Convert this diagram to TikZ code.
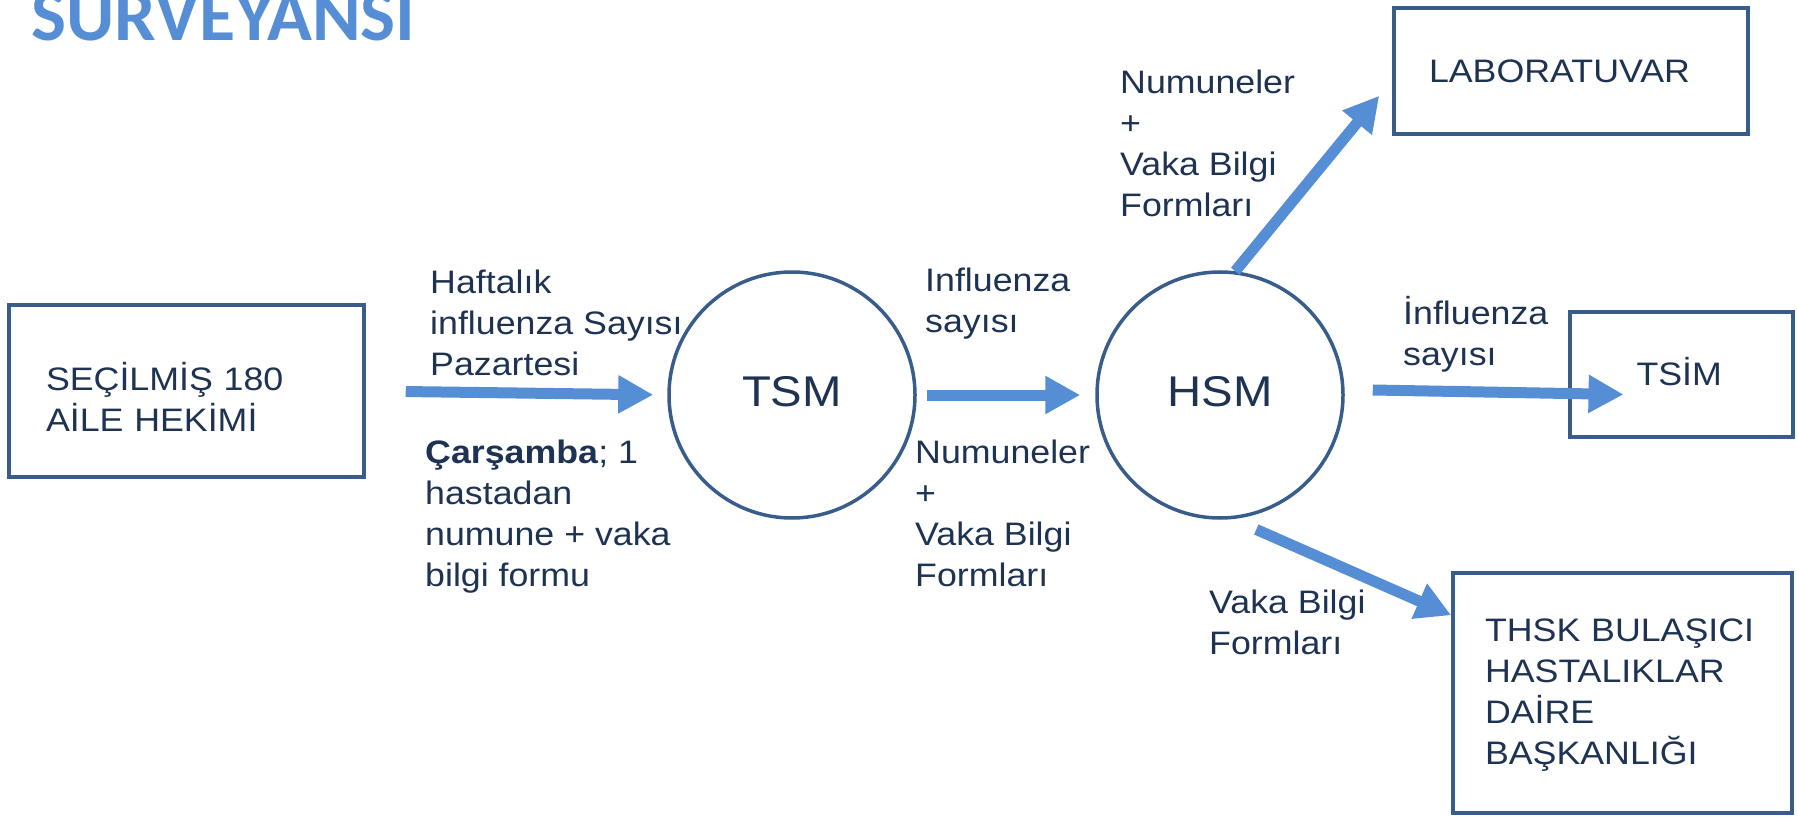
\documentclass[tikz,border=0pt]{standalone}
\usepackage{fontspec}
\setmainfont{Liberation Sans}[FakeStretch=1.1]
\newfontfamily\titlefont{Carlito}
\usetikzlibrary{arrows.meta}
\definecolor{boxc}{HTML}{385D8A}
\definecolor{flowc}{HTML}{558ED5}
\definecolor{txtc}{HTML}{1E3352}

\begin{document}
\begin{tikzpicture}[x=1pt,y=-1pt,
  every node/.style={text=txtc, inner sep=0pt},
  % multi-line labels are placed by the baseline of their last line
  lbl/.style={font=\fontsize{32.5}{41}\selectfont, align=left, anchor=base west},
  box/.style={draw=boxc, line width=3.5pt, rectangle, font=\fontsize{32.5}{41}\selectfont, align=left},
  hub/.style={draw=boxc, line width=3.5pt, circle, minimum size=246pt,
    font=\fontsize{43}{50}\selectfont, text height=31pt, text depth=8pt},
  flow/.style={draw=flowc, line width=11pt, -{Triangle[length=35pt,width=36pt]}}
]
\useasboundingbox (0,0) rectangle (1797,818);

% heading
\node[anchor=base west, text=flowc, font=\titlefont\bfseries\fontsize{74}{80}\selectfont]
  (title) at (31,41) {SURVEYANSI};

% boxes
\node[box, minimum width=355pt, minimum height=172pt, text width=281pt,
  text height=20pt, text depth=22pt] (sel) at (186.5,391) {SEÇİLMİŞ 180\\AİLE HEKİMİ};
\node[box, minimum width=354pt, minimum height=126pt, text width=284pt,
  text height=24pt, text depth=0pt] (lab) at (1571,71) {LABORATUVAR};
\node[box, minimum width=223pt, minimum height=125pt, text width=90pt,
  text height=21pt, text depth=0pt] (tsim) at (1681.5,374.5) {TSİM};
\node[box, minimum width=339pt, minimum height=240pt, text width=275pt,
  text height=10pt, text depth=114pt] (thsk) at (1622.5,693)
  {THSK BULAŞICI\\HASTALIKLAR\\DAİRE\\BAŞKANLIĞI};

% centres
\node[hub] (tsm) at (792,395) {TSM};
\node[hub] (hsm) at (1220,395) {HSM};

% flows
\draw[flow, shorten <=40pt, shorten >=14pt] (sel.east) -- (tsm.west);
\draw[flow, shorten <=10pt, shorten >=15pt] (tsm.east) -- (hsm.west);
\draw[flow] (hsm.83) -- ([shift={(-13,-40)}]lab.south west);
\draw[flow] ([shift={(28,-5)}]hsm.east) -- ([shift={(-58,20)}]tsim.center);
\draw[flow] ([shift={(4,14)}]hsm.-75) -- ([shift={(0,44)}]thsk.north west);

% flow labels
\node[lbl] (l1) at (430,375) {Haftalık\\influenza Sayısı\\Pazartesi};
\node[lbl] (l2) at (425,586) {\textbf{Çarşamba}; 1\\hastadan\\numune + vaka\\bilgi formu};
\node[lbl] (l3) at (925,333) {Influenza\\sayısı};
\node[lbl] (l4) at (915,586) {Numuneler\\+\\Vaka Bilgi\\Formları};
\node[lbl] (l5) at (1120,217) {Numuneler\\+\\Vaka Bilgi\\Formları};
\node[lbl] (l6) at (1403,366) {İnfluenza\\sayısı};
\node[lbl] (l7) at (1209,654) {Vaka Bilgi\\Formları};
\end{tikzpicture}
\end{document}
